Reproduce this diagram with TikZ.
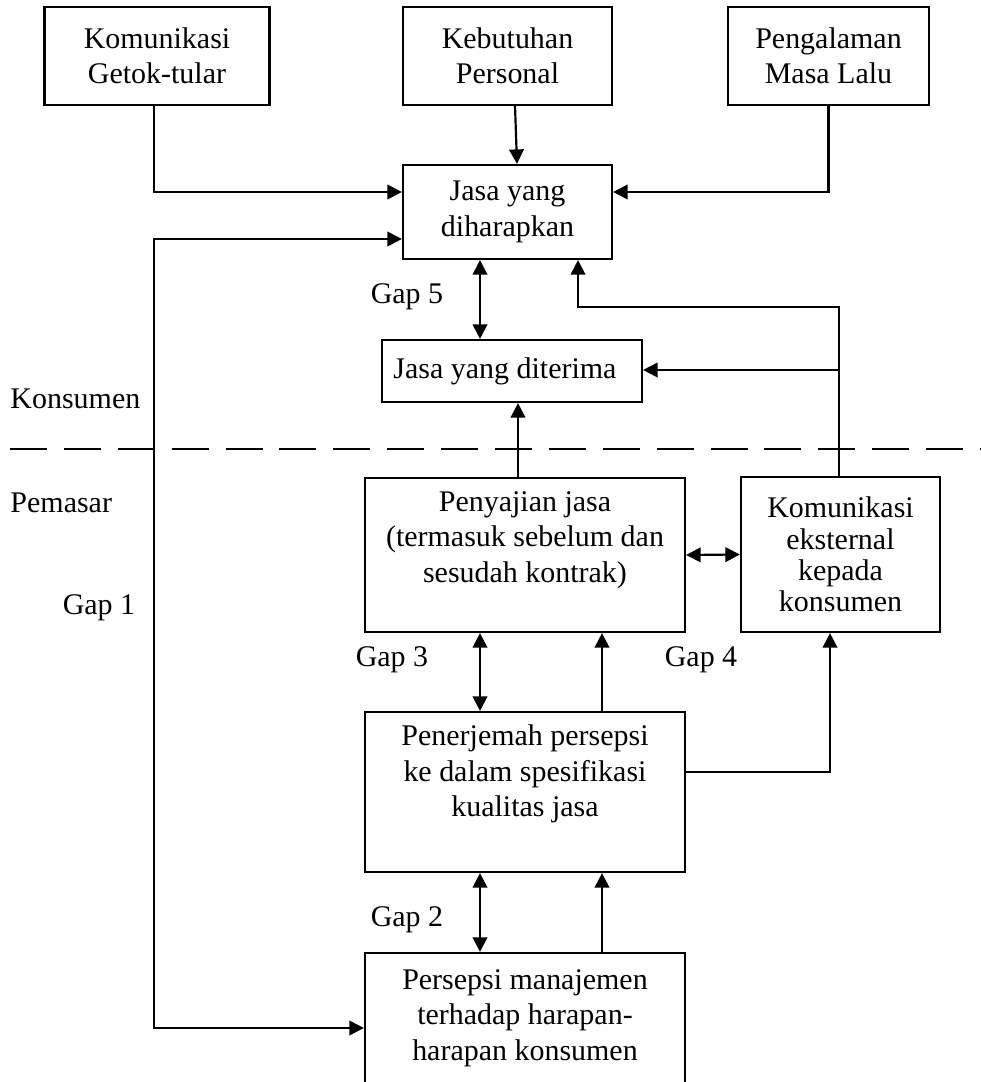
\documentclass[tikz,border=0pt]{standalone}
\usepackage{fontspec}
\setmainfont{Liberation Serif}
\usetikzlibrary{arrows.meta}
\newcommand{\ukur}{0.4138pt}

\tikzset{
	kotak/.style 2 args={draw, line width=0.9pt, inner sep=0pt, align=center, minimum width=#1*\ukur, minimum height=#2*\ukur},
	teks/.style={inner sep=0pt, align=center},
	panah/.style={line width=0.9pt, -{Triangle[length=6pt,width=6pt]}},
	panahdua/.style={line width=0.9pt, {Triangle[length=6pt,width=6pt]}-{Triangle[length=6pt,width=6pt]}}
}

\begin{document}
\begin{tikzpicture}[x=\ukur, y=-\ukur, font=\fontsize{12.4}{14.6}\selectfont]
		\useasboundingbox (0,0) rectangle (981,1082);
		\clip (0,0) rectangle (981,1082);
		
		% sisi konsumen
		\node[kotak={225}{98}] (kg) at (157,56) {Komunikasi\\Getok-tular};
		\node[kotak={209}{98}] (kp) at (507.5,56) {Kebutuhan\\Personal};
		\node[kotak={201}{98}] (pm) at (828.5,56) {Pengalaman\\Masa Lalu};
		\node[kotak={209}{94}] (jh) at (507.5,212) {Jasa yang\\diharapkan};
		\node[kotak={260}{62}] (jd) at (512,371) {Jasa yang diterima\hspace*{5.8pt}};
		
		\draw[line width=0.9pt, dash pattern=on 15.3pt off 7pt] (10,449) -- (981,449);
		\node[teks, anchor=west] (konsumen) at (10,399) {Konsumen};
		\node[teks, anchor=west] (pemasar) at (10,503) {Pemasar};
		
		% sisi pemasar
		\node[kotak={320}{154}] (pj) at (525,555) {};
		\node[teks] (pjteks) at (525,540) {Penyajian jasa\\(termasuk sebelum dan\\sesudah kontrak)};
		\node[kotak={199}{155}, font=\fontsize{12.4}{12.9}\selectfont] (ke) at (840.5,554.5) {Komunikasi\\eksternal\\kepada\\konsumen};
		\node[kotak={320}{160}] (pjm) at (525,792) {};
		\node[teks] (pjmteks) at (525,774) {Penerjemah persepsi\\ke dalam spesifikasi\\kualitas jasa};
		\node[kotak={320}{200}] (pmj) at (525,1053) {};
		\node[teks] (pmjteks) at (525,1018) {Persepsi manajemen\\terhadap harapan-\\harapan konsumen};
		
		\node[teks] (gap1) at (99,608) {Gap 1};
		\node[teks] (gap2) at (407,920) {Gap 2};
		\node[teks] (gap3) at (392,660) {Gap 3};
		\node[teks] (gap4) at (701,660) {Gap 4};
		\node[teks] (gap5) at (407,297) {Gap 5};
		
		% panah
		\draw[panah] (kg.south -| 154,0) |- (jh.west |- 0,192);
		\draw[panah] (kp.south -| 515,0) -- (jh.north -| 517,0);
		\draw[panah] (pm.south) |- (jh.east |- 0,192);
		\draw[panahdua] (jh.south -| 480,0) -- (jd.north -| 480,0);
		\draw[panah] (ke.north -| 839,0) |- (578,307) -- (jh.south -| 578,0);
		\draw[panah] (839,370) -- (jd.east |- 0,370);
		\draw[panah] (pj.north -| 518,0) -- (jd.south -| 518,0);
		\draw[panahdua] (pj.east) -- (ke.west);
		\draw[panahdua] (pj.south -| 480,0) -- (pjm.north -| 480,0);
		\draw[panah] (pjm.north -| 602,0) -- (pj.south -| 602,0);
		\draw[panah] (pjm.east |- 0,772) -| (ke.south -| 830,0);
		\draw[panahdua] (pjm.south -| 480,0) -- (pmj.north -| 480,0);
		\draw[panah] (pmj.north -| 602,0) -- (pjm.south -| 602,0);
		\draw[panahdua] (pmj.west |- 0,1028) -| (154,600) |- (jh.west |- 0,239);
	\end{tikzpicture}
\end{document}
